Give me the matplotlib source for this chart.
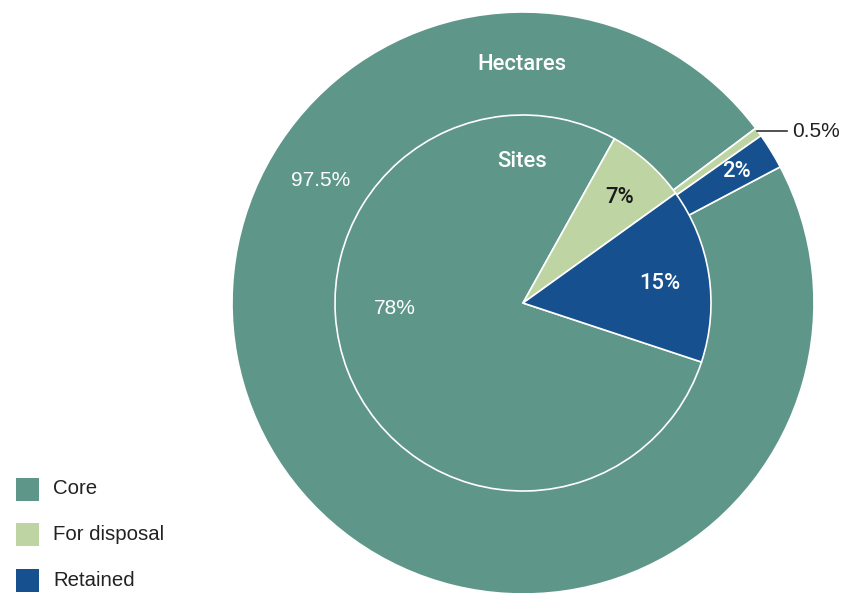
import matplotlib.pyplot as plt
from matplotlib.patches import Rectangle

plt.rcParams['font.family'] = ['Liberation Sans', 'DejaVu Sans']

# share of hectares (outer ring) and sites (inner pie)
categories = ['Core', 'For disposal', 'Retained']
hectares = [97.5, 0.5, 2.0]
sites = [78, 7, 15]
colors = ['#5f968a', '#bed5a3', '#17508e']

W, H = 845, 593
cx, cy = 523, H - 303

fig = plt.figure(figsize=(W / 100, H / 100), dpi=100)
ax = fig.add_axes([0, 0, 1, 1])

wedge_kw = dict(edgecolor='white', linewidth=1.2)
ax.pie(hectares, colors=colors, radius=291, center=(cx, cy),
       startangle=27.9, counterclock=False, wedgeprops=wedge_kw, frame=True)
ax.pie(sites, colors=colors, radius=188, center=(cx, cy),
       startangle=-18.3, counterclock=False, wedgeprops=wedge_kw, frame=True)
ax.set_xlim(0, W)
ax.set_ylim(0, H)
ax.set_aspect('equal')
ax.axis('off')


def label(x, y, s, color='white', weight='medium', ha='center'):
    if weight == 'medium':
        fam, size = ['Roboto', 'Liberation Sans'], 15.8
    else:
        fam, size = ['Liberation Sans'], 15
    ax.text(x, H - y, s, color=color, fontsize=size, fontweight=weight,
            family=fam, ha=ha, va='center')


label(522, 64, 'Hectares')
label(522, 162, 'Sites')
label(321, 181, f'{hectares[0]}%', weight='normal')
label(736, 172, f'{hectares[2]:.0f}%')
label(395, 309, f'{sites[0]}%', weight='normal')
label(620, 198, f'{sites[1]}%', color='#1a1a1a')
label(660, 284, f'{sites[2]}%')

# leader for the thin disposal sliver
ax.plot([757, 787], [H - 131, H - 131], color='#333333', lw=1.2)
label(792, 132, f'{hectares[1]}%', color='#222222', weight='normal', ha='left')

# legend
for i, (name, c) in enumerate(zip(categories, colors)):
    yc = 489 + i * 45.5
    ax.add_patch(Rectangle((16, H - yc - 11.5), 23, 23, color=c, lw=0))
    ax.text(53, H - yc, name, fontsize=14.7, color='#222222', va='center')

fig.savefig('out.png', dpi=100)
